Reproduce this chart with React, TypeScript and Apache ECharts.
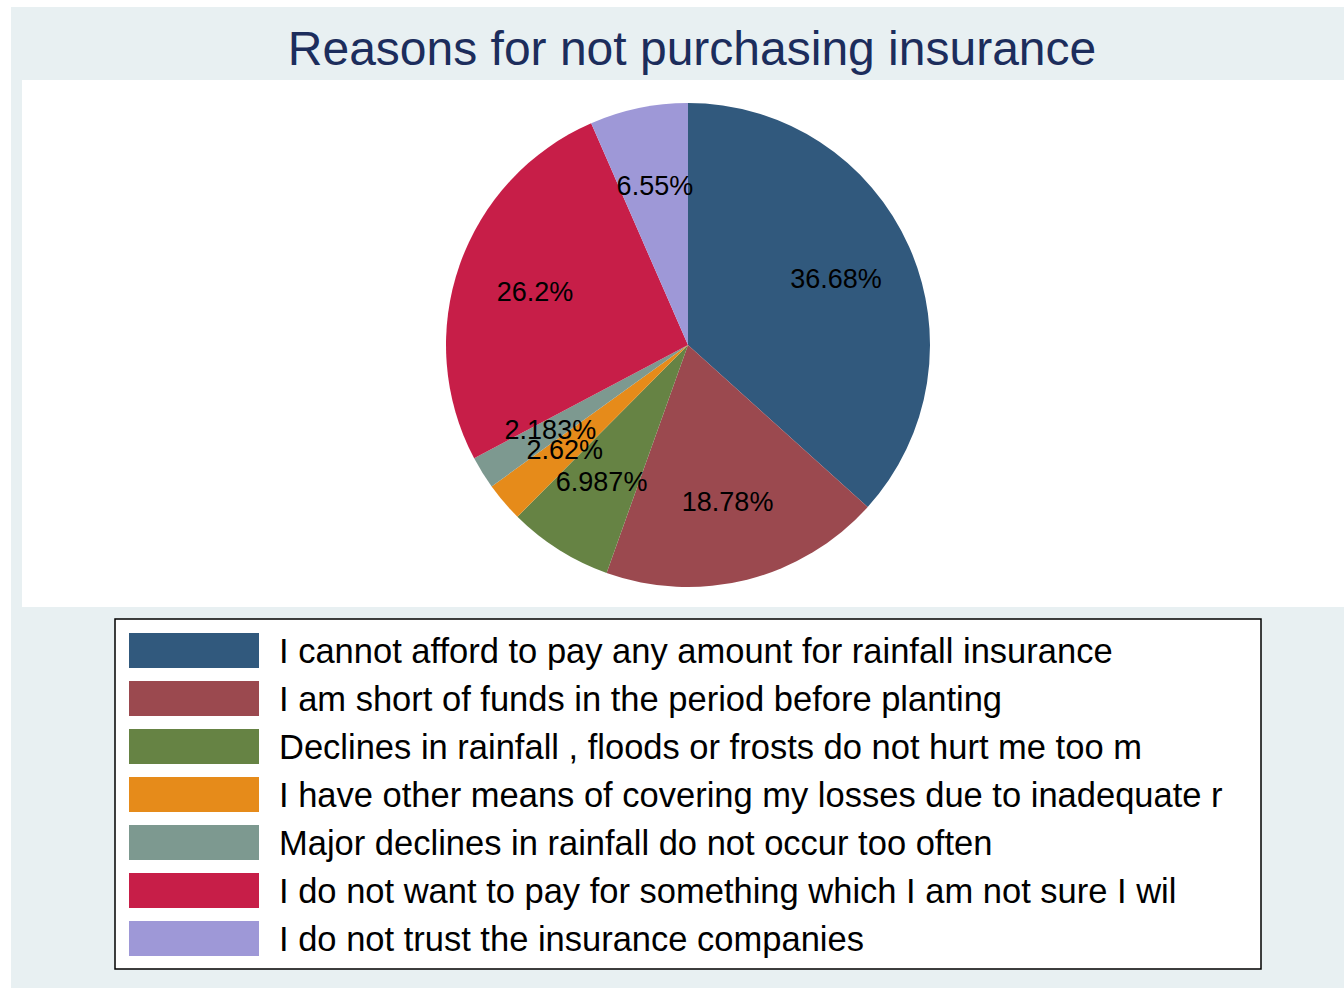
import React, { useEffect, useRef } from "react";
import * as echarts from "echarts";

const TITLE = "Reasons for not purchasing insurance";
const categories = [
  "I cannot afford to pay any amount for rainfall insurance",
  "I am short of funds in the period before planting",
  "Declines in rainfall , floods or frosts do not hurt me too m",
  "I have other means of covering my losses due to inadequate r",
  "Major declines in rainfall do not occur too often",
  "I do not want to pay for something which I am not sure I wil",
  "I do not trust the insurance companies",
];
const percents = [36.68, 18.78, 6.987, 2.62, 2.183, 26.2, 6.55];
const colors = ["#31597d", "#9b494f", "#668344", "#e68b1a", "#7d9990", "#c71e48", "#9e98d7"];

const FONT = "'Liberation Sans', Arial, Helvetica, sans-serif";

export default function App() {
  const ref = useRef<HTMLDivElement>(null);
  useEffect(() => {
    if (!ref.current) return;
    const chart = echarts.init(ref.current, undefined, { renderer: "svg" });
    const data = categories.map((name, i) => ({ name, value: percents[i] }));
    chart.setOption({
      animation: false,
      backgroundColor: "#ffffff",
      color: colors,
      graphic: [
        { type: "rect", z: 0, shape: { x: 11, y: 7, width: 1345, height: 995 }, style: { fill: "#e8f0f2" } },
        { type: "rect", z: 0, shape: { x: 22, y: 80, width: 1340, height: 527 }, style: { fill: "#ffffff" } },
        {
          type: "rect",
          z: 0,
          shape: { x: 115, y: 619, width: 1146, height: 350 },
          style: { fill: "#ffffff", stroke: "#000000", lineWidth: 1.5 },
        },
        {
          type: "text",
          z: 1,
          x: 692,
          y: 48,
          style: {
            text: TITLE,
            fontSize: 48,
            fontFamily: FONT,
            fill: "#1c2d5c",
            align: "center",
            verticalAlign: "middle",
          },
        },
      ],
      legend: {
        orient: "vertical",
        left: 129,
        top: 633,
        padding: 0,
        itemWidth: 130,
        itemHeight: 35,
        itemGap: 13,
        icon: "rect",
        selectedMode: false,
        data: categories,
        textStyle: { fontSize: 34.5, color: "#000", fontFamily: FONT, padding: [0, 0, 0, 15] },
      },
      series: [
        {
          type: "pie",
          center: [688, 345],
          radius: [0, 242],
          startAngle: 90,
          clockwise: true,
          silent: true,
          itemStyle: { borderWidth: 0 },
          label: { show: false },
          labelLine: { show: false },
          data,
        },
        {
          type: "pie",
          center: [688, 345],
          radius: [76, 242],
          startAngle: 90,
          clockwise: true,
          silent: true,
          itemStyle: { color: "rgba(0,0,0,0)", borderWidth: 0 },
          labelLayout: { hideOverlap: false },
          label: {
            show: true,
            position: "inside",
            formatter: (p: any) => `${p.value}%`,
            color: "#000",
            fontSize: 27,
            fontFamily: FONT,
            textBorderWidth: 0,
          },
          labelLine: { show: false },
          data,
        },
      ],
    });
    return () => chart.dispose();
  }, []);
  return (
    <div
      ref={ref}
      style={{ position: "absolute", left: 0, top: 0, width: 1344, height: 988 }}
    />
  );
}
